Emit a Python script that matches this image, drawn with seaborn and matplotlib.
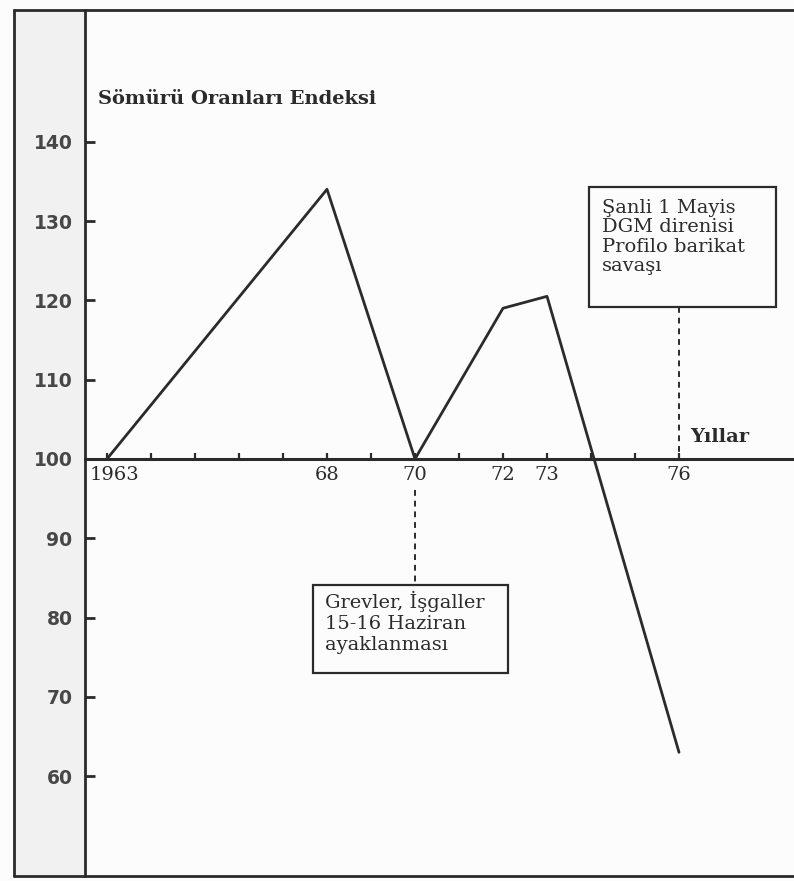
import matplotlib
matplotlib.use("Agg")
import matplotlib.pyplot as plt
import matplotlib.transforms as mtransforms
from matplotlib.lines import Line2D
from matplotlib.patches import Rectangle
import pandas as pd
import seaborn as sns

# data
YEARS = [1963, 1968, 1970, 1972, 1973, 1976]
INDEX = [100, 134, 100, 119, 120.5, 63]
YEAR_TICKS = list(range(1963, 1977))
LABELED_YEARS = {1963: "1963", 1968: "68", 1970: "70", 1972: "72", 1973: "73", 1976: "76"}
Y_TICKS = [60, 70, 80, 90, 100, 110, 120, 130, 140]

TITLE = "Sömürü Oranları Endeksi"
X_NAME = "Yıllar"
NOTE_1976 = "Şanli 1 Mayis\nDGM direnisi\nProfilo barikat\nsavaşı"
NOTE_1970 = "Grevler, İşgaller\n15-16 Haziran\nayaklanması"

INK = "#2b2b2b"
W, H = 794, 881


def px_x(px):
    return 1962.5 + (px - 85) / 44.0


def px_y(px):
    return 100 + (458.9 - px) / 7.93


sns.set_theme(style="white")
plt.rcParams["font.family"] = ["DejaVu Serif"]

fig = plt.figure(figsize=(W / 100, H / 100), dpi=100)
fig.patch.set_facecolor("#fcfcfc")
ax = fig.add_axes([85 / W, 1 - 876 / H, 1 - 85 / W, 866 / H])
ax.set_facecolor("none")

df = pd.DataFrame({"year": YEARS, "index": INDEX})
sns.lineplot(data=df, x="year", y="index", ax=ax, color=INK, linewidth=2.0)

ax.set_xlim(px_x(85), px_x(W))
ax.set_ylim(px_y(876), px_y(10))

for side in ["top", "right"]:
    ax.spines[side].set_visible(False)
ax.spines["left"].set_color(INK)
ax.spines["left"].set_linewidth(2.0)
ax.spines["bottom"].set_position(("data", 100))
ax.spines["bottom"].set_color(INK)
ax.spines["bottom"].set_linewidth(2.2)

ax.set_yticks(Y_TICKS)
ax.set_yticklabels([str(v) for v in Y_TICKS])
ax.tick_params(axis="y", left=True, direction="in", length=7, width=2, color=INK, pad=9,
               labelsize=13.5, labelcolor="#474747")
for lab in ax.get_yticklabels():
    lab.set_fontfamily(["DejaVu Sans"])
    lab.set_fontweight("bold")

ax.set_xticks(YEAR_TICKS)
ax.set_xticklabels([LABELED_YEARS.get(y, "") for y in YEAR_TICKS])
ax.tick_params(axis="x", bottom=True, direction="in", length=4.5, width=1.6, color=INK, pad=5,
               labelsize=14, labelcolor=INK)
# the first year label sits a little right of its tick, clear of the spine
first = ax.get_xticklabels()[0]
first.set_transform(first.get_transform() + mtransforms.ScaledTranslation(8 / 100, 0, fig.dpi_scale_trans))
ax.set_xlabel("")
ax.set_ylabel("")

ax.text(px_x(98), px_y(99), TITLE, ha="left", va="center", fontsize=14,
        fontweight="bold", color=INK)
ax.text(px_x(690), px_y(437), X_NAME, ha="left", va="center", fontsize=14,
        fontweight="bold", color=INK)

# note boxes with dashed leaders
ax.add_patch(Rectangle((px_x(589), px_y(307)), px_x(776) - px_x(589), px_y(187) - px_y(307),
                       fill=False, edgecolor=INK, linewidth=1.6))
ax.text(px_x(602), px_y(199), NOTE_1976, ha="left", va="top", fontsize=14,
        color=INK, linespacing=1.1)
ax.plot([1976, 1976], [px_y(307), 100], color=INK, linewidth=1.4, linestyle=(0, (3, 2.5)))

ax.add_patch(Rectangle((px_x(313), px_y(673)), px_x(508) - px_x(313), px_y(585) - px_y(673),
                       fill=False, edgecolor=INK, linewidth=1.6))
ax.text(px_x(325), px_y(591), NOTE_1970, ha="left", va="top", fontsize=14,
        color=INK, linespacing=1.2)
ax.plot([1970, 1970], [px_y(490), px_y(585)], color=INK, linewidth=1.4, linestyle=(0, (3, 2.5)))

# outer page frame
fig.add_artist(Rectangle((14 / W, 1 - 876 / H), 71 / W, 866 / H, transform=fig.transFigure,
                         facecolor="#f1f1f1", edgecolor="none", zorder=-1))
frame = dict(transform=fig.transFigure, color=INK, linewidth=2.0)
fig.add_artist(Line2D([14 / W, 14 / W], [1 - 876 / H, 1 - 10 / H], **frame))
fig.add_artist(Line2D([14 / W, 1], [1 - 10 / H, 1 - 10 / H], **frame))
fig.add_artist(Line2D([14 / W, 1], [1 - 876 / H, 1 - 876 / H], **frame))

fig.savefig("out.png", dpi=100, facecolor=fig.get_facecolor())
